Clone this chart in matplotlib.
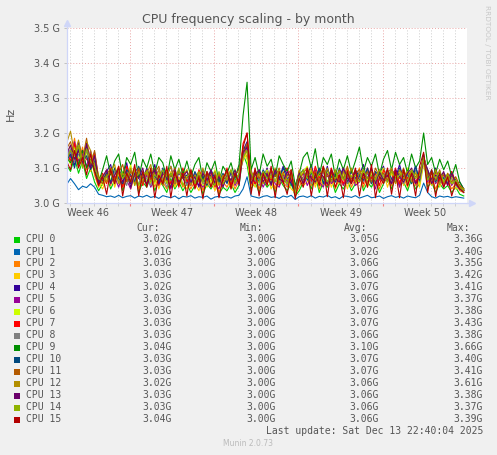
import numpy as np
import matplotlib
matplotlib.use("Agg")
import matplotlib.pyplot as plt
from matplotlib.patches import Rectangle

# ---------------- data ----------------
cpu_names = [f"CPU {i}" for i in range(16)]
cpu_colors = ["#00CC00", "#0066B3", "#FF8000", "#FFCC00", "#330099", "#990099",
              "#CCFF00", "#FF0000", "#808080", "#008F00", "#00487D", "#B35A00",
              "#B38F00", "#6B006B", "#8FB300", "#B30000"]

# sample times: days since Mon Nov 10 00:00, one sample every 8 hours
t_start_days = 1.73
t_step_days = 1.0 / 3.0

# values: MHz above 3.000 GHz
c0 = [110,90,130,85,120,70,100,60,35,55, 80,40,65,90,35,70,55,85,30,60,
      45,75,35,65,50,30,70,40,60,35, 55,30,50,65,25,55,40,60,25,45,
      35,55,30,50,140,110,40,60,30,65, 45,60,30,70,50,35,55,20,35,60,
      75,40,80,30,60,45,70,30,55,40, 65,35,55,85,35,60,45,70,30,55,
      80,40,75,50,60,35,70,40,55,120, 45,60,30,55,40,50,30,45,25,20]
c1 = [52,70,55,38,48,44,55,45,25,22, 18,20,16,22,15,19,21,14,20,17,
      22,16,19,13,21,18,15,20,12,19, 17,21,14,18,16,20,11,17,19,15,
      18,14,20,22,40,75,20,17,14,19, 21,16,18,13,20,17,22,10,18,20,
      16,21,14,19,17,22,15,18,12,20, 19,16,21,14,18,22,15,17,20,13,
      18,21,16,19,14,20,17,15,22,57, 30,18,14,20,17,19,15,18,16,14]
c2 = [150,120,185,110,160,95,140,80,45,70, 95,50,80,105,45,85,65,100,40,75,
      55,90,45,80,60,40,85,50,75,45, 70,40,65,80,35,70,50,75,30,60,
      45,70,40,65,160,130,50,75,40,80, 55,75,40,85,60,45,70,25,45,75,
      90,50,95,40,75,55,85,40,70,50, 80,45,70,100,45,75,55,85,40,70,
      95,50,90,60,75,45,85,50,70,140, 55,75,40,70,50,65,40,55,35,30]
c3 = [140,165,120,150,105,175,90,120,60,40, 70,95,45,80,60,100,40,75,90,50,
      85,55,95,40,75,60,90,45,70,55, 40,75,55,35,80,45,65,35,70,50,
      75,40,60,85,120,150,70,45,80,55, 85,40,70,55,90,65,40,30,75,50,
      60,95,45,80,50,90,45,75,60,85, 40,80,55,65,95,45,80,50,70,90,
      45,85,55,95,50,80,60,90,45,110, 80,50,85,45,70,55,75,40,45,35]
c4 = [125,150,110,175,130,160,100,145,70,55, 90,110,60,95,75,115,55,90,100,65,
      100,70,110,55,90,75,105,60,85,70, 55,90,70,50,95,60,80,50,85,65,
      90,55,75,100,150,175,85,60,95,70, 100,55,85,70,105,80,55,35,90,65,
      75,110,60,95,65,105,60,90,75,100, 55,95,70,80,110,60,95,65,85,105,
      60,100,70,110,65,95,75,105,60,130, 95,65,100,60,85,70,90,55,60,40]
c5 = [160,130,175,120,140,105,150,95,55,80, 60,95,75,45,85,65,40,90,70,55,
      80,45,70,95,50,85,40,75,60,90, 65,50,85,60,45,75,90,55,40,80,
      60,85,50,70,130,160,95,55,75,45, 70,90,55,45,80,60,90,35,65,85,
      50,75,95,60,45,85,55,70,90,50, 75,95,50,60,85,55,75,40,90,60,
      70,55,85,45,95,60,80,55,90,125, 60,85,55,75,45,80,50,70,40,35]
c6 = [135,110,160,130,115,145,95,125,80,50, 85,65,100,55,90,70,110,50,80,95,
      60,100,55,85,70,95,50,90,65,80, 95,55,75,90,50,85,60,95,55,70,
      85,60,95,55,145,125,60,90,55,75, 95,60,80,95,55,75,85,30,60,90,
      105,65,75,100,60,90,70,95,55,85, 100,60,85,70,95,65,90,60,80,100,
      65,95,75,85,60,100,70,90,55,115, 70,90,60,80,65,85,55,70,45,40]
c7 = [145,120,170,105,150,125,110,140,65,85, 55,100,70,90,45,105,75,60,95,50,
      90,65,100,50,80,95,55,85,45,100, 60,80,45,95,70,55,90,45,80,60,
      100,50,85,65,170,200,80,55,90,60, 80,65,95,50,85,100,60,40,90,55,
      85,60,105,70,95,50,100,65,80,55, 95,70,60,90,55,100,70,85,50,95,
      75,65,100,55,90,70,95,60,80,135, 85,55,95,65,80,50,90,60,50,35]
c8 = [130,155,115,140,120,150,105,130,60,70, 75,55,90,60,80,50,95,65,55,85,
      70,50,90,60,75,45,80,65,55,85, 50,70,60,80,55,65,45,85,60,50,
      70,80,55,75,135,150,75,65,50,80, 60,85,65,55,75,50,80,30,60,70,
      85,55,75,65,90,55,80,60,70,90, 55,75,65,90,60,85,55,75,65,80,
      90,60,70,85,55,80,65,95,60,120, 75,60,80,55,75,60,70,50,40,30]
c9 = [130,115,140,110,150,100,125,90,60,95, 135,80,120,140,75,130,110,145,70,125,
      100,140,85,130,115,70,135,95,125,80, 120,75,110,130,65,115,90,120,60,105,
      85,115,70,110,250,345,95,130,80,140, 105,125,75,135,110,90,120,50,85,130,
      145,100,155,80,130,110,140,75,125,95, 135,85,120,160,90,130,105,140,80,125,
      150,95,145,110,130,85,140,100,120,200, 110,130,85,125,95,120,75,110,60,40]
c10 = [120,140,100,155,115,135,95,120,55,65, 85,60,100,70,55,95,80,60,105,70,
       55,90,75,60,100,65,85,55,95,70, 80,55,90,65,75,50,95,70,60,85,
       55,90,65,80,150,165,70,85,60,95, 75,55,90,65,100,70,55,35,80,95,
       65,85,70,100,55,95,75,60,100,70, 85,60,95,75,65,100,55,90,75,65,
       95,70,60,100,75,85,55,105,65,140, 70,95,60,85,70,55,80,65,45,35]
c11 = [155,175,135,160,125,185,110,150,70,55, 80,100,65,85,110,60,90,75,100,55,
       95,70,85,105,60,90,75,100,55,85, 70,95,55,80,60,90,70,55,85,65,
       90,60,80,95,140,170,65,95,70,85, 60,95,75,100,55,80,95,30,70,85,
       100,70,90,60,105,75,85,65,95,70, 105,60,85,95,70,90,60,100,75,85,
       65,95,80,70,100,60,90,75,85,125, 75,90,65,95,55,85,60,75,50,40]
c12 = [170,205,140,180,120,175,150,110,65,80, 60,90,110,55,85,70,100,50,90,65,
       85,110,60,95,50,80,105,55,90,70, 95,50,80,60,100,55,75,90,50,80,
       65,95,55,85,155,145,90,65,85,55, 90,70,100,55,85,65,75,35,95,60,
       80,100,55,90,70,100,60,95,55,90, 70,100,60,85,95,55,90,70,95,60,
       85,100,55,95,70,90,60,85,70,130, 90,60,95,55,85,65,80,55,45,40]
c13 = [140,165,125,150,110,170,100,135,60,75, 95,55,80,100,60,90,45,85,70,100,
       50,80,95,55,85,70,45,95,60,75, 90,60,75,45,85,65,95,55,75,45,
       80,65,95,50,145,160,55,80,95,60, 85,50,95,70,60,90,65,35,85,55,
       95,70,60,90,75,55,95,70,60,100, 70,55,90,65,85,70,100,55,90,65,
       80,55,95,75,60,85,100,55,75,120, 95,55,80,70,90,50,85,55,40,35]
c14 = [125,150,135,165,100,155,120,105,70,60, 75,90,55,95,70,85,60,95,50,80,
       90,60,80,70,95,55,85,65,100,50, 75,85,55,90,60,80,70,50,90,55,
       75,95,60,85,130,150,85,70,60,90, 70,80,60,95,70,55,85,30,75,95,
       70,90,65,85,95,60,80,70,90,65, 90,75,80,60,95,70,80,65,95,75,
       60,90,70,80,85,60,95,70,80,125, 65,85,70,90,60,80,55,65,45,35]
c15 = [120,95,150,100,130,80,140,90,50,75, 25,95,55,105,20,85,60,110,20,90,
       45,100,15,80,55,105,15,90,50,85, 20,95,40,75,12,90,45,80,15,70,
       95,40,85,55,160,200,25,100,20,85, 50,105,15,90,60,25,95,12,70,45,
       100,20,85,50,105,18,95,45,80,15, 90,55,100,20,85,45,110,15,75,55,
       100,25,90,15,95,50,85,20,105,145, 30,95,18,85,45,75,20,60,40,30]
series_mhz = [c0, c1, c2, c3, c4, c5, c6, c7, c8, c9, c10, c11, c12, c13, c14, c15]

cur_ghz = [3.02, 3.01, 3.03, 3.03, 3.02, 3.03, 3.03, 3.03, 3.03, 3.04, 3.03, 3.03, 3.02, 3.03, 3.03, 3.04]
min_ghz = [3.00] * 16
avg_ghz = [3.05, 3.02, 3.06, 3.06, 3.07, 3.06, 3.07, 3.07, 3.06, 3.10, 3.07, 3.07, 3.06, 3.06, 3.06, 3.06]
max_ghz = [3.36, 3.40, 3.35, 3.42, 3.41, 3.37, 3.38, 3.43, 3.38, 3.66, 3.40, 3.41, 3.61, 3.38, 3.37, 3.39]

week_labels = ["Week 46", "Week 47", "Week 48", "Week 49", "Week 50"]
week_starts = [0, 7, 14, 21, 28]          # days since Mon Nov 10
ytick_vals = [3.0e9, 3.1e9, 3.2e9, 3.3e9, 3.4e9, 3.5e9]
ytick_labels = ["3.0 G", "3.1 G", "3.2 G", "3.3 G", "3.4 G", "3.5 G"]
x_range = (1.73, 35.0)

# ---------------- figure ----------------
W, H = 497, 455
fig = plt.figure(figsize=(W / 100, H / 100), dpi=100, facecolor="#F0F0F0")

def fx(x):
    return x / W

def fy(y):
    return 1 - y / H

TXT = "#555555"
AXC = "#CFD6F8"
ax = fig.add_axes([fx(66.5), fy(203), (467 - 66.5) / W, (203 - 28) / H])
ax.set_facecolor("white")

t = t_start_days + np.arange(len(c0)) * t_step_days
for name, col, vals in zip(cpu_names, cpu_colors, series_mhz):
    ax.plot(t, (3000 + np.array(vals)) * 1e6, color=col, lw=0.8, zorder=3)

ax.set_xlim(*x_range)
ax.set_ylim(3.0e9, 3.5e9)

# ticks and grid
days = np.arange(2, 35)
ax.set_xticks(week_starts[1:])
ax.set_xticks([d for d in days if d % 7 != 0], minor=True)
ax.set_xticklabels([])
ax.set_yticks(ytick_vals)
ax.set_yticklabels(ytick_labels)
ax.tick_params(axis="y", length=2, width=0.6, color="#BBBBBB", labelsize=7,
               labelcolor=TXT, pad=3)
ax.tick_params(axis="x", which="major", length=2, width=0.8, color="#F08080")
ax.tick_params(axis="x", which="minor", length=2, width=0.6, color="#C8C8C8")
ax.grid(which="minor", axis="x", color="#CCCCCC", ls=(0, (1, 2)), lw=0.7, zorder=1)
ax.grid(which="major", axis="both", color="#E9A5A5", ls=(0, (1, 2)), lw=0.7, zorder=1)

for wl, ws in zip(week_labels, week_starts):
    ax.annotate(wl, xy=(ws + 3.5, 0), xycoords=("data", "axes fraction"),
                xytext=(0, -3.5), textcoords="offset points", ha="center", va="top",
                fontsize=7, color=TXT)

for s in ["top", "right"]:
    ax.spines[s].set_visible(False)
for s in ["left", "bottom"]:
    ax.spines[s].set_color(AXC)
    ax.spines[s].set_linewidth(0.9)
    ax.spines[s].set_zorder(4)

# axis arrows
ax.plot([1.0, 1.012], [0, 0], transform=ax.transAxes, color=AXC, lw=0.9, clip_on=False)
ax.plot([1.012], [0], transform=ax.transAxes, marker=">", ms=4, color=AXC, clip_on=False)
ax.plot([0, 0], [1.0, 1.03], transform=ax.transAxes, color=AXC, lw=0.9, clip_on=False)
ax.plot([0], [1.03], transform=ax.transAxes, marker="^", ms=4, color=AXC, clip_on=False)

# texts
fig.text(fx(248), fy(19), "CPU frequency scaling - by month", ha="center", va="center",
         fontsize=9, color=TXT)
fig.text(fx(11), fy(113.5), "Hz", rotation=90, ha="center", va="center",
         fontsize=8, color=TXT)
fig.text(fx(487), fy(5), "RRDTOOL / TOBI OETIKER", rotation=270, ha="center", va="top",
         fontsize=5.3, color="#C8C8C8")

# legend
mono = "DejaVu Sans Mono"
FS = 7
head_y = 227.7
for lab, xr in zip(["Cur:", "Min:", "Avg:", "Max:"], [160, 263, 367, 470]):
    fig.text(fx(xr), fy(head_y), lab, ha="right", va="center", family=mono,
             fontsize=FS, color=TXT)
cols_right = [172, 276, 379, 483]
for k, (name, col) in enumerate(zip(cpu_names, cpu_colors)):
    y = 239.5 + 12 * k
    fig.patches.append(Rectangle((fx(14), fy(y + 3)), 6 / W, 6 / H, transform=fig.transFigure,
                                 facecolor=col, edgecolor="none", figure=fig))
    fig.text(fx(26), fy(y), name, ha="left", va="center", family=mono, fontsize=FS, color=TXT)
    for vals, xr in zip([cur_ghz, min_ghz, avg_ghz, max_ghz], cols_right):
        fig.text(fx(xr), fy(y), f"{vals[k]:.2f}G", ha="right", va="center", family=mono,
                 fontsize=FS, color=TXT)

fig.text(fx(483), fy(431), "Last update: Sat Dec 13 22:40:04 2025", ha="right", va="center",
         family=mono, fontsize=FS, color=TXT)
fig.text(fx(248), fy(444), "Munin 2.0.73", ha="center", va="center", fontsize=5.5,
         color="#BBBBBB")

fig.savefig("out.png", dpi=100, facecolor=fig.get_facecolor())
